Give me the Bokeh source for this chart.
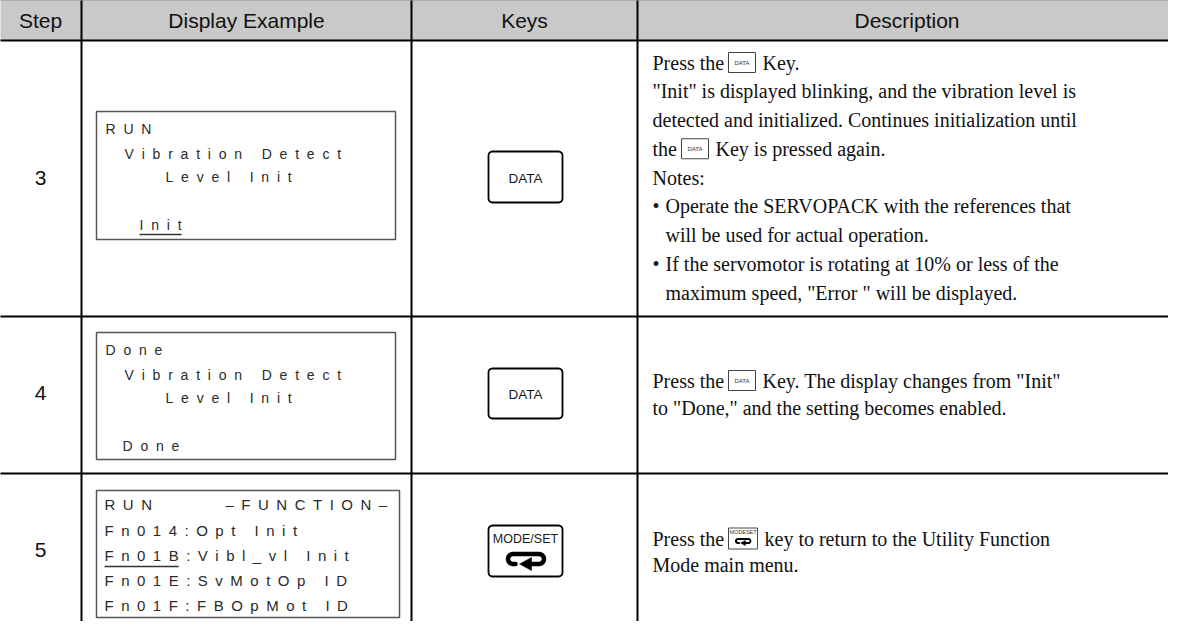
import math
from bokeh.plotting import figure
from bokeh.models import Range1d
from bokeh.core.properties import value
from bokeh.embed import file_html
from bokeh.resources import INLINE

# ---------------- data (texts of the table) ----------------
headers = ["Step", "Display Example", "Keys", "Description"]
steps = ["3", "4", "5"]
keys = ["DATA", "DATA", "MODE/SET"]

display_3 = ["RUN", "Vibration Detect", "Level Init", "Init"]
display_4 = ["Done", "Vibration Detect", "Level Init", "Done"]
display_5 = ["RUN", "\u2013FUNCTION\u2013", "Fn014:Opt Init", "Fn01B:Vibl_vl Init",
             "Fn01E:SvMotOp ID", "Fn01F:FBOpMot ID"]

desc_3 = ["Press the", "Key.",
          "\"Init\" is displayed blinking, and the vibration level is",
          "detected and initialized. Continues initialization until",
          "the", "Key is pressed again.",
          "Notes:",
          "\u2022", "Operate the SERVOPACK with the references that",
          "will be used for actual operation.",
          "\u2022", "If the servomotor is rotating at 10% or less of the",
          "maximum speed, \"Error \" will be displayed."]
desc_4 = ["Press the", "Key. The display changes from \"Init\"",
          "to \"Done,\" and the setting becomes enabled."]
desc_5 = ["Press the", "key to return to the Utility Function",
          "Mode main menu."]

# ---------------- layout (pixel positions of the reference) ----------------
W, H = 1168, 621
p = figure(width=W, height=H, output_backend="svg", toolbar_location=None,
           x_range=Range1d(8, 8 + W), y_range=Range1d(8 + H, 8),
           min_border=0)
p.axis.visible = False
p.grid.visible = False
p.outline_line_color = None
p.background_fill_color = "white"
p.border_fill_color = "white"

SANS = value("Liberation Sans")
SERIF = value("Liberation Serif")

col_x = [89, 419, 645]
row_y = [7, 48, 324, 481]
table_left, table_right, table_bottom = 7, 1184, 640

# header band
p.quad(left=[table_left], right=[table_right], top=[row_y[0]], bottom=[row_y[1]],
       fill_color="#c9c9c9", line_color=None)
# horizontal rules
p.multi_line(xs=[[table_left, table_right]] * 4, ys=[[y, y] for y in row_y],
             line_color="black", line_width=2)
# vertical rules
p.multi_line(xs=[[x, x] for x in col_x], ys=[[row_y[0], table_bottom]] * 3,
             line_color="black", line_width=2)

# header texts
head_x = [48, (col_x[0] + col_x[1]) / 2, (col_x[1] + col_x[2]) / 2, (col_x[2] + 1184) / 2]
p.text(x=head_x, y=[28] * 4, text=headers, text_font=SANS, text_font_size="21px",
       text_align="center", text_baseline="middle", text_color="#111111")

# step numbers
step_y = [185, 400, 557]
p.text(x=[48] * 3, y=step_y, text=steps, text_font=SANS, text_font_size="21px",
       text_align="center", text_baseline="middle", text_color="#111111")

# ---------------- display boxes ----------------
ARIAL = {' ': 278, 'A': 667, 'B': 667, 'C': 722, 'D': 722, 'E': 667, 'F': 611,
         'I': 278, 'L': 556, 'M': 833, 'N': 722, 'O': 778, 'R': 722, 'S': 667,
         'T': 611, 'U': 722, 'V': 667, 'a': 556, 'b': 556, 'c': 500, 'd': 556,
         'e': 556, 'i': 222, 'l': 222, 'n': 556, 'o': 556, 'p': 556, 'r': 333,
         't': 278, 'v': 500, ':': 278, '_': 556, '-': 333, '\u2013': 556}


def spaced_text(s, x0, y, size, track):
    xs, chars = [], []
    x = x0
    for ch in s:
        if ch != ' ':
            xs.append(x)
            chars.append(ch)
        x += ARIAL.get(ch, 556) * size / 1000 + track
    p.text(x=xs, y=[y] * len(xs), text=chars, text_font=SANS,
           text_font_size=f"{size}px", text_align="left", text_baseline="middle",
           text_color="#2a2a2a")
    return x - track


boxes = [(104, 403, 119, 247), (104, 403, 340, 467), (104, 407, 498, 625)]
p.quad(left=[b[0] for b in boxes], right=[b[1] for b in boxes],
       top=[b[2] for b in boxes], bottom=[b[3] for b in boxes],
       fill_color="white", line_color="#555555", line_width=1.5)

disp34_x = [113, 132, 173, 147]
disp4_x = [113, 132, 173, 130]
disp34_dy = [17, 42, 65, 113]
for lines, top, xs in [(display_3, 119, disp34_x), (display_4, 340, disp4_x)]:
    for k, (s, x0) in enumerate(zip(lines, xs)):
        end = spaced_text(s, x0, top + disp34_dy[k], 14, 7.8)
        if k == 3 and s == "Init":
            p.line(x=[x0, end], y=[top + disp34_dy[k] + 10] * 2, line_color="#333333",
                   line_width=1.3)

disp5_x = [112, 233, 112, 112, 112, 112]
disp5_y = [512, 512, 538, 563, 588, 613]
for k, s in enumerate(display_5):
    spaced_text(s, disp5_x[k], disp5_y[k], 15, 7.5)
# underline of "Fn01B"
ul_end = 112
for ch in display_5[3].split(":")[0]:
    ul_end += ARIAL.get(ch, 556) * 15 / 1000 + 7.5
p.line(x=[112, ul_end - 7.5], y=[574, 574], line_color="#333333", line_width=1.3)


# ---------------- keys ----------------
def rrect(x0, y0, x1, y1, r, n=8):
    xs, ys = [], []
    corners = [(x1 - r, y0 + r, -90, 0), (x1 - r, y1 - r, 0, 90),
               (x0 + r, y1 - r, 90, 180), (x0 + r, y0 + r, 180, 270)]
    for cx, cy, a0, a1 in corners:
        for k in range(n + 1):
            a = math.radians(a0 + (a1 - a0) * k / n)
            xs.append(cx + r * math.cos(a))
            ys.append(cy + r * math.sin(a))
    return xs, ys


def return_icon(cx, cy, s, lw):
    # loop path (centre-line) with a left pointing arrow head at the bottom
    xs, ys = [], []
    xr, xl, yt, yb, r = cx + 13.5 * s, cx - 12.5 * s, cy - 5 * s, cy + 5 * s, 5 * s
    xs += [cx + 4 * s, xr]
    ys += [yb, yb]
    for k in range(11):
        a = math.radians(90 - 180 * k / 10)
        xs.append(xr + r * math.cos(a))
        ys.append(cy + r * math.sin(a))
    xs.append(xl)
    ys.append(yt)
    for k in range(11):
        a = math.radians(-90 - 180 * k / 10)
        xs.append(xl + r * math.cos(a))
        ys.append(cy + r * math.sin(a))
    xs.append(cx - 10 * s)
    ys.append(yb)
    p.line(x=xs, y=ys, line_color="black", line_width=lw, line_cap="round",
           line_join="round")
    p.patch(x=[cx - 6 * s, cx + 6 * s, cx + 6 * s],
            y=[yb, yb - 6.5 * s, yb + 6.5 * s], fill_color="black", line_color="black",
            line_width=0.5)


key_boxes = [(496, 159, 570, 210), (496, 376, 570, 426), (496, 533, 570, 584)]
for (x0, y0, x1, y1), label in zip(key_boxes, keys):
    xs, ys = rrect(x0, y0, x1, y1, 4)
    p.patch(x=xs, y=ys, fill_color="white", line_color="black", line_width=1.8)
    if label == "DATA":
        p.text(x=[(x0 + x1) / 2], y=[(y0 + y1) / 2 + 1], text=[label], text_font=SANS,
               text_font_size="13.5px", text_align="center", text_baseline="middle",
               text_color="#1a1a1a")
    else:
        p.text(x=[(x0 + x1) / 2], y=[y0 + 13], text=[label], text_font=SANS,
               text_font_size="12.5px", text_align="center", text_baseline="middle",
               text_color="#1a1a1a")
        return_icon((x0 + x1) / 2, y0 + 33.5, 1.0, 4.5)


# ---------------- descriptions ----------------
def dtext(x, y, s):
    p.text(x=[x], y=[y], text=[s], text_font=SERIF, text_font_size="20px",
           text_align="left", text_baseline="middle", text_color="#111111")


def small_key(x0, y0, x1, y1, label):
    p.quad(left=[x0], right=[x1], top=[y0], bottom=[y1], fill_color="white",
           line_color="#444444", line_width=1)
    if label == "DATA":
        p.text(x=[(x0 + x1) / 2], y=[(y0 + y1) / 2], text=[label], text_font=SANS,
               text_font_size="6px", text_align="center", text_baseline="middle",
               text_color="#333333")
    else:
        p.text(x=[(x0 + x1) / 2], y=[y0 + 4], text=["MODESET"], text_font=SANS,
               text_font_size="5.5px", text_align="center", text_baseline="middle",
               text_color="#333333")
        return_icon((x0 + x1) / 2, y0 + 13, 0.4, 2)


TX, IND = 660, 673
ly = [70, 98.75, 127.5, 156.25, 185, 213.75, 242.5, 271.25, 300]
dtext(TX, ly[0], desc_3[0]); small_key(736, ly[0] - 10, 763, ly[0] + 10, "DATA")
dtext(770, ly[0], desc_3[1])
dtext(TX, ly[1], desc_3[2])
dtext(TX, ly[2], desc_3[3])
dtext(TX, ly[3], desc_3[4]); small_key(689, ly[3] - 10, 716, ly[3] + 10, "DATA")
dtext(723, ly[3], desc_3[5])
dtext(TX, ly[4], desc_3[6])
dtext(TX, ly[5], desc_3[7]); dtext(IND, ly[5], desc_3[8])
dtext(IND, ly[6], desc_3[9])
dtext(TX, ly[7], desc_3[10]); dtext(IND, ly[7], desc_3[11])
dtext(IND, ly[8], desc_3[12])

dtext(TX, 388, desc_4[0]); small_key(736, 378, 763, 398, "DATA")
dtext(770, 388, desc_4[1])
dtext(TX, 415, desc_4[2])

dtext(TX, 546, desc_5[0]); small_key(736, 535.5, 765, 556.5, "MODE")
dtext(772, 546, desc_5[1])
dtext(TX, 572, desc_5[2])

open("out.html", "w").write(file_html(p, INLINE))
